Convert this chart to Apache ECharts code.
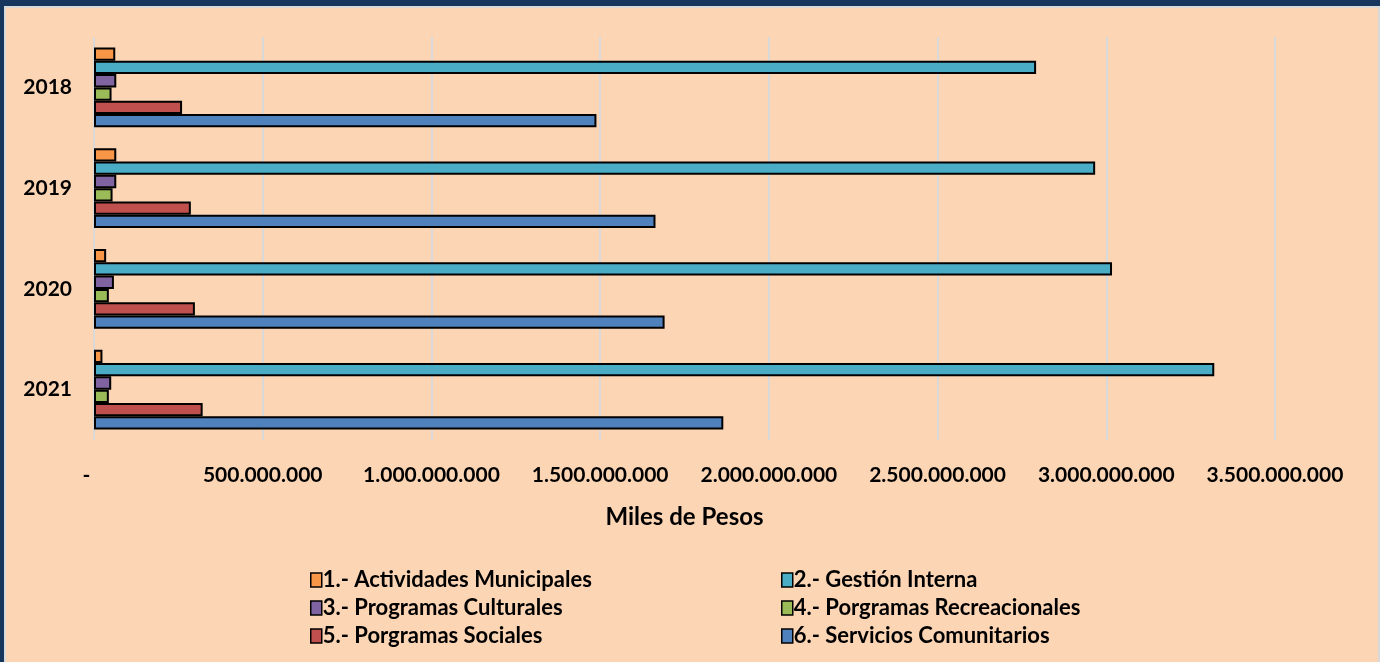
<!DOCTYPE html>
<html>
<head>
<meta charset="utf-8">
<script src="https://cdn.jsdelivr.net/npm/echarts@6/dist/echarts.min.js"></script>
<style>
  html, body {
    margin: 0;
    padding: 0;
    width: 1380px;
    height: 662px;
    background: #17365d;
    overflow: hidden;
  }
  .frame {
    position: absolute;
    left: 4px;
    top: 6px;
    width: 1372px;
    height: 656px;
    background: #fcd5b5;
    border-left: 2px solid #d9d9d9;
    border-top: 2px solid #d9d9d9;
    border-right: 2px solid #d9d9d9;
  }
  #chart {
    position: absolute;
    left: 0;
    top: 0;
    width: 1380px;
    height: 662px;
  }
</style>
</head>
<body>
<div class="frame"></div>
<div id="chart"></div>
<script>
// años (categorías)
const years = ['2018', '2019', '2020', '2021']

// valores en miles de pesos
const actividades = [63000000, 66000000, 36000000, 25000000]
const gestion = [2792000000, 2967000000, 3017000000, 3320000000]
const culturales = [66000000, 66000000, 59000000, 51000000]
const recreacionales = [52000000, 55000000, 44000000, 44000000]
const sociales = [261000000, 287000000, 299000000, 322000000]
const servicios = [1489000000, 1664000000, 1691000000, 1865000000]

const seriesNames = [
  '1.- Actividades Municipales',
  '2.- Gestión Interna',
  '3.- Programas Culturales',
  '4.- Porgramas Recreacionales',
  '5.- Porgramas Sociales',
  '6.- Servicios Comunitarios',
]
const seriesData = [actividades, gestion, culturales, recreacionales, sociales, servicios]
const COLORS = ['#f79646', '#4bacc6', '#8064a2', '#9bbb59', '#c0504d', '#4f81bd']

const FONT = 'Lato, "Open Sans", sans-serif'

function fmt(v) {
  if (v === 0) return '-   '
  return String(Math.round(v)).replace(/\B(?=(\d{3})+(?!\d))/g, '.')
}

const chart = echarts.init(document.getElementById('chart'))

const legendBase = {
  orient: 'vertical',
  icon: 'rect',
  itemWidth: 11,
  itemHeight: 14,
  itemGap: 6,
  itemStyle: { borderColor: '#000', borderWidth: 1.5 },
  textStyle: {
    color: '#000',
    fontSize: 22,
    fontWeight: 'bold',
    fontFamily: FONT,
    padding: [0, 0, 0, -4],
  },
}

chart.setOption({
  animation: false,
  backgroundColor: 'transparent',
  color: COLORS,
  legend: [
    Object.assign({}, legendBase, { left: 305, top: 564, data: [seriesNames[0], seriesNames[2], seriesNames[4]] }),
    Object.assign({}, legendBase, { left: 776, top: 564, data: [seriesNames[1], seriesNames[3], seriesNames[5]] }),
  ],
  grid: { left: 94, right: 105, top: 37, bottom: 222 },
  xAxis: {
    type: 'value',
    min: 0,
    max: 3500000000,
    interval: 500000000,
    axisLine: { show: false },
    axisTick: { show: false },
    splitLine: { show: true, lineStyle: { color: '#d9d9d9', width: 2 } },
    axisLabel: {
      color: '#000',
      fontSize: 21,
      fontWeight: 'bold',
      fontFamily: FONT,
      margin: 25,
      formatter: fmt,
    },
    name: 'Miles de Pesos',
    nameLocation: 'middle',
    nameGap: 65,
    nameTextStyle: {
      color: '#000',
      fontSize: 24,
      fontWeight: 'bold',
      fontFamily: FONT,
    },
  },
  yAxis: {
    type: 'category',
    data: years,
    inverse: true,
    axisLine: { show: false },
    axisTick: { show: false },
    axisLabel: {
      color: '#000',
      fontSize: 21,
      fontWeight: 'bold',
      fontFamily: FONT,
      margin: 22,
    },
  },
  series: seriesNames.map((name, i) => ({
    name,
    type: 'bar',
    data: seriesData[i],
    barGap: '0%',
    barCategoryGap: '21%',
    itemStyle: { borderColor: '#000', borderWidth: 2 },
  })),
})
</script>
</body>
</html>
